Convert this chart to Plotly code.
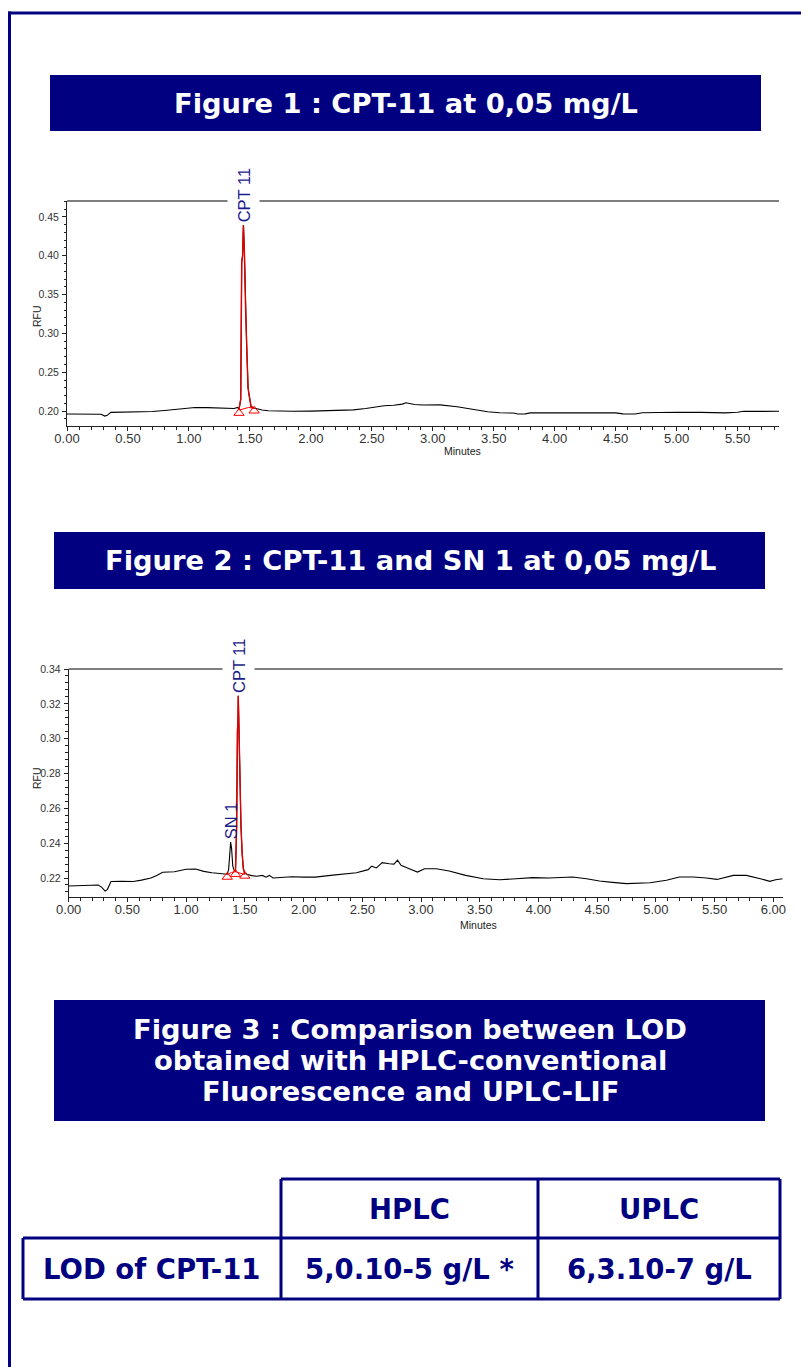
import plotly.graph_objects as go

W, H = 809, 1367
OFF = 8  # page body margin in the browser
NAVY = "#000080"
LABEL = "#1c1c8c"

# ---------------- data: Figure 1 chromatogram ----------------
f1_time = [0.00, 0.10, 0.20, 0.28, 0.31, 0.33, 0.36, 0.50, 0.60, 0.70, 0.80, 0.90, 1.00, 1.05, 1.15,
           1.25, 1.32, 1.37, 1.40, 1.411, 1.425, 1.433, 1.440, 1.447, 1.455, 1.465, 1.474, 1.485,
           1.493, 1.51, 1.535, 1.56, 1.60, 1.65, 1.75, 1.85, 2.00, 2.25, 2.35, 2.45, 2.55, 2.60,
           2.68, 2.75, 2.78, 2.85, 2.92, 3.00, 3.06, 3.20, 3.30, 3.45, 3.55, 3.66, 3.70, 3.76,
           3.80, 4.00, 4.20, 4.50, 4.56, 4.66, 4.72, 4.85, 5.00, 5.20, 5.40, 5.50, 5.55, 5.70, 5.84]
f1_rfu = [0.1962, 0.1962, 0.1962, 0.1960, 0.1936, 0.1945, 0.1983, 0.1985, 0.1987, 0.1995, 0.2008,
          0.2026, 0.2040, 0.2047, 0.2044, 0.2040, 0.2030, 0.2034, 0.2047, 0.2025, 0.2150, 0.3914,
          0.4000, 0.4397, 0.4050, 0.3300, 0.2825, 0.2300, 0.2205, 0.2056, 0.2040, 0.2026, 0.2013,
          0.2005, 0.2000, 0.1998, 0.2000, 0.2004, 0.2015, 0.2034, 0.2056, 0.2068, 0.2075, 0.2090,
          0.2107, 0.2085, 0.2078, 0.2077, 0.2080, 0.2055, 0.2030, 0.1991, 0.1978, 0.1975, 0.1962,
          0.1964, 0.1977, 0.1977, 0.1979, 0.1977, 0.1964, 0.1962, 0.1978, 0.1985, 0.1985, 0.1983,
          0.1977, 0.1985, 0.1998, 0.1996, 0.1998]
f1_peak_time = [1.411, 1.425, 1.433, 1.440, 1.447, 1.455, 1.465, 1.474, 1.485, 1.493, 1.51, 1.535]
f1_peak_rfu = [0.2025, 0.2150, 0.3914, 0.4000, 0.4397, 0.4050, 0.3300, 0.2825, 0.2300, 0.2205,
               0.2056, 0.2040]
f1_base_time = [1.411, 1.49, 1.535]
f1_base_rfu = [0.2013, 0.2047, 0.2035]
f1_mark_time = [1.411, 1.535]
f1_mark_rfu = [0.1974, 0.2004]
f1_labels = ["CPT 11"]
f1_label_time = [1.447]
f1_label_rfu = [0.4397]
f1_xticks = [0.00, 0.50, 1.00, 1.50, 2.00, 2.50, 3.00, 3.50, 4.00, 4.50, 5.00, 5.50]
f1_yticks = [0.20, 0.25, 0.30, 0.35, 0.40, 0.45]

# ---------------- data: Figure 2 chromatogram ----------------
f2_time = [0.00, 0.10, 0.20, 0.25, 0.28, 0.31, 0.33, 0.36, 0.45, 0.55, 0.62, 0.70, 0.75, 0.80,
           0.90, 1.00, 1.08, 1.15, 1.22, 1.30, 1.35, 1.362, 1.372, 1.379, 1.387, 1.397, 1.41,
           1.42, 1.425, 1.430, 1.437, 1.441, 1.444, 1.450, 1.458, 1.467, 1.477, 1.487, 1.50,
           1.55, 1.60, 1.65, 1.68, 1.71, 1.74, 1.85, 1.90, 2.00, 2.10, 2.23, 2.35, 2.45, 2.55,
           2.58, 2.62, 2.67, 2.73, 2.77, 2.80, 2.83, 2.90, 2.97, 3.03, 3.13, 3.24, 3.38, 3.53,
           3.67, 3.81, 3.95, 4.09, 4.29, 4.41, 4.52, 4.63, 4.75, 4.95, 5.09, 5.20, 5.32, 5.43,
           5.52, 5.66, 5.77, 5.89, 5.97, 6.02, 6.08]
f2_rfu = [0.2154, 0.2158, 0.2162, 0.2160, 0.2148, 0.2125, 0.2135, 0.2180, 0.2181, 0.2180, 0.2188,
          0.2200, 0.2215, 0.2233, 0.2236, 0.2250, 0.2252, 0.2238, 0.2230, 0.2225, 0.2222, 0.2250,
          0.2370, 0.2406, 0.2370, 0.2270, 0.2240, 0.2238, 0.2350, 0.2500, 0.3050, 0.3090, 0.3247,
          0.3020, 0.2750, 0.2500, 0.2340, 0.2255, 0.2225, 0.2215, 0.2210, 0.2215, 0.2205, 0.2215,
          0.2200, 0.2203, 0.2207, 0.2205, 0.2205, 0.2215, 0.2222, 0.2230, 0.2248, 0.2268, 0.2258,
          0.2288, 0.2282, 0.2280, 0.2302, 0.2273, 0.2253, 0.2234, 0.2253, 0.2253, 0.2240, 0.2215,
          0.2196, 0.2190, 0.2196, 0.2202, 0.2200, 0.2206, 0.2196, 0.2183, 0.2175, 0.2168, 0.2173,
          0.2187, 0.2206, 0.2206, 0.2200, 0.2192, 0.2215, 0.2215, 0.2196, 0.2181, 0.2190, 0.2196]
f2_peak_time = [1.42, 1.425, 1.430, 1.437, 1.441, 1.444, 1.450, 1.458, 1.467, 1.477, 1.487, 1.50]
f2_peak_rfu = [0.2238, 0.2350, 0.2500, 0.3050, 0.3090, 0.3247, 0.3020, 0.2750, 0.2500, 0.2340,
               0.2255, 0.2225]
f2_base_time = [1.35, 1.385, 1.42, 1.46, 1.50]
f2_base_rfu = [0.2218, 0.2232, 0.2236, 0.2230, 0.2220]
f2_mark_time = [1.35, 1.42, 1.50]
f2_mark_rfu = [0.2206, 0.2222, 0.2212]
f2_labels = ["SN 1", "CPT 11"]
f2_label_time = [1.379, 1.444]
f2_label_rfu = [0.2406, 0.3247]
f2_xticks = [0.00, 0.50, 1.00, 1.50, 2.00, 2.50, 3.00, 3.50, 4.00, 4.50, 5.00, 5.50, 6.00]
f2_yticks = [0.22, 0.24, 0.26, 0.28, 0.30, 0.32, 0.34]

# ---------------- text / table ----------------
titles = ["Figure 1 : CPT-11 at 0,05 mg/L", "Figure 2 : CPT-11 and SN 1 at 0,05 mg/L"]
title3_lines = ["Figure 3 : Comparison between LOD", "obtained with HPLC-conventional",
                "Fluorescence and UPLC-LIF"]
table_header = ["", "HPLC", "UPLC"]
table_row = ["LOD of CPT-11", "5,0.10-5 g/L *", "6,3.10-7 g/L"]


def px(x):
    return (x - OFF) / W


def py(y):
    return 1 - (y - OFF) / H


fig = go.Figure()

for xa, ya, t, v, pt, pv, bt, bv, mt, mv in [
    ("x", "y", f1_time, f1_rfu, f1_peak_time, f1_peak_rfu, f1_base_time, f1_base_rfu, f1_mark_time, f1_mark_rfu),
    ("x2", "y2", f2_time, f2_rfu, f2_peak_time, f2_peak_rfu, f2_base_time, f2_base_rfu, f2_mark_time, f2_mark_rfu),
]:
    fig.add_trace(go.Scatter(x=t, y=v, mode="lines", line=dict(color="black", width=1.1),
                             xaxis=xa, yaxis=ya, showlegend=False, hoverinfo="skip"))
    fig.add_trace(go.Scatter(x=bt, y=bv, mode="lines", line=dict(color="#ff0000", width=1),
                             xaxis=xa, yaxis=ya, showlegend=False, hoverinfo="skip"))
    fig.add_trace(go.Scatter(x=pt, y=pv, mode="lines", line=dict(color="#e00000", width=1.4),
                             xaxis=xa, yaxis=ya, showlegend=False, hoverinfo="skip"))
    fig.add_trace(go.Scatter(x=mt, y=mv, mode="markers",
                             marker=dict(symbol="triangle-up-open", size=9, color="#ff0000",
                                         line=dict(width=1, color="#ff0000")),
                             xaxis=xa, yaxis=ya, showlegend=False, hoverinfo="skip"))

axis_common = dict(showgrid=False, zeroline=False, showline=True, linecolor="#222", linewidth=1,
                   ticks="outside", ticklen=4, tickcolor="#222", tickwidth=1, automargin=False)
minor_common = dict(tick0=0, ticks="outside", ticklen=2.5, tickcolor="#222")
xfont = dict(family="Liberation Sans", size=13, color="#333")
yfont = dict(family="Liberation Sans", size=10.5, color="#333")

fig.update_layout(
    template="none",
    xaxis=dict(domain=[px(67), px(779)], range=[0, 5.84], anchor="y", tickvals=f1_xticks,
               tickformat=".2f", tickfont=xfont, ticklabelstandoff=-4,
               minor=dict(dtick=0.1, **minor_common), **axis_common),
    yaxis=dict(domain=[py(426), py(201)], range=[0.1808, 0.4705], anchor="x", tickvals=f1_yticks,
               tickformat=".2f", tickfont=yfont, ticklabelstandoff=1,
               minor=dict(dtick=0.01, **minor_common), **axis_common),
    xaxis2=dict(domain=[px(68.7), px(782.7)], range=[0, 6.08], anchor="y2", tickvals=f2_xticks,
                tickformat=".2f", tickfont=xfont, ticklabelstandoff=-4,
                minor=dict(dtick=0.1, **minor_common), **axis_common),
    yaxis2=dict(domain=[py(897), py(669)], range=[0.2091, 0.34], anchor="x2", tickvals=f2_yticks,
                tickformat=".2f", tickfont=yfont, ticklabelstandoff=1,
                minor=dict(dtick=0.004, **minor_common), **axis_common),
)

shapes = []
annotations = []

# outer frame
shapes.append(dict(type="line", xref="paper", yref="paper", x0=px(8), x1=px(820), y0=py(13), y1=py(13),
                   line=dict(color=NAVY, width=3)))
shapes.append(dict(type="line", xref="paper", yref="paper", x0=px(9.5), x1=px(9.5), y0=py(11.5), y1=py(1380),
                   line=dict(color=NAVY, width=3)))

for (x0, y0, x1, y1) in [(50, 75, 761, 131), (54, 532, 765, 589), (54, 1000, 765, 1121)]:
    shapes.append(dict(type="rect", xref="paper", yref="paper", x0=px(x0), x1=px(x1), y0=py(y1), y1=py(y0),
                       fillcolor=NAVY, line=dict(width=0), layer="below"))


def txt(text, x, y, font, angle=0):
    return dict(text=text, x=px(x), y=py(y), xref="paper", yref="paper", showarrow=False, font=font,
                xanchor="center", yanchor="middle", textangle=angle)


title_font = dict(family="DejaVu Sans", size=27.3, color="white", weight="bold")
annotations.append(txt(titles[0], 406, 103, title_font))
annotations.append(txt(titles[1], 410, 560, title_font))
for line, yy in zip(title3_lines, [1029, 1060, 1091]):
    annotations.append(txt(line, 410, yy, title_font))

for xa, ya in [("x", "y"), ("x2", "y2")]:
    shapes.append(dict(type="line", xref=xa + " domain", yref=ya + " domain", x0=0, x1=1, y0=1, y1=1,
                       line=dict(color="#555", width=1.5)))

label_font = dict(family="Liberation Sans", size=16.5, color=LABEL)
for xa, ya, labs, lt, lv in [("x", "y", f1_labels, f1_label_time, f1_label_rfu),
                             ("x2", "y2", f2_labels, f2_label_time, f2_label_rfu)]:
    for lab, t, v in zip(labs, lt, lv):
        if lab == "CPT 11":
            annotations.append(dict(text=" ", x=t, y=1, xref=xa, yref=ya + " domain", showarrow=False,
                                    width=31, height=5, bgcolor="white", borderpad=0,
                                    xanchor="center", yanchor="middle"))
        annotations.append(dict(text=lab, x=t, y=v, xref=xa, yref=ya, showarrow=False, textangle=-90,
                                font=label_font, xanchor="center", yanchor="bottom", yshift=2,
                                borderpad=0))

small = dict(family="Liberation Sans", size=10.5, color="#222")
annotations.append(txt("RFU", 37, 316, small, -90))
annotations.append(txt("RFU", 37, 778, small, -90))
annotations.append(txt("Minutes", 462, 451, small))
annotations.append(txt("Minutes", 478, 925, small))

tl = dict(color=NAVY, width=3)
for (x0, y0, x1, y1) in [(281, 1179, 780, 1179), (23, 1238, 780, 1238), (23, 1299, 780, 1299),
                         (23, 1238, 23, 1299), (281, 1179, 281, 1299), (538, 1179, 538, 1299),
                         (780, 1179, 780, 1299)]:
    shapes.append(dict(type="line", xref="paper", yref="paper", x0=px(x0), x1=px(x1), y0=py(y0), y1=py(y1),
                       line=tl))
table_font = dict(family="DejaVu Sans", size=27.5, color=NAVY, weight="bold")
col_centers = [152, 409, 659]
for t, cx in zip(table_header, col_centers):
    if t:
        annotations.append(txt(t, cx, 1209, table_font))
for t, cx in zip(table_row, col_centers):
    annotations.append(txt(t, cx, 1269, table_font))

fig.update_layout(width=W, height=H, margin=dict(l=0, r=0, t=0, b=0, pad=0, autoexpand=False),
                  paper_bgcolor="white", plot_bgcolor="white", shapes=shapes, annotations=annotations,
                  showlegend=False)

fig.write_html("out.html")
